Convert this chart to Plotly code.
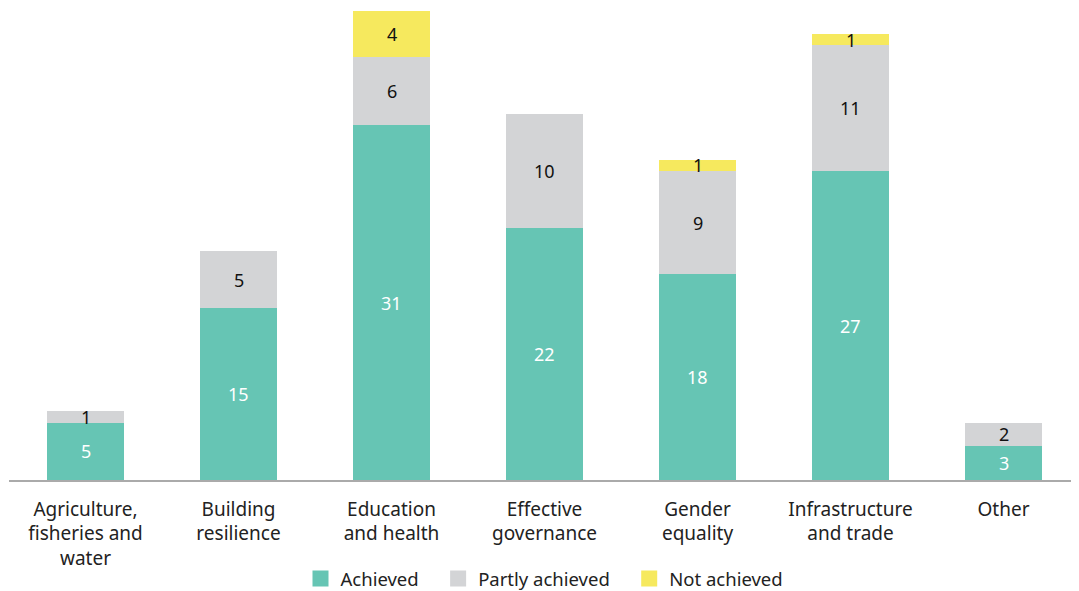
import plotly.graph_objects as go

categories = ["Agriculture,<br>fisheries and<br>water", "Building<br>resilience", "Education<br>and health",
              "Effective<br>governance", "Gender<br>equality", "Infrastructure<br>and trade", "Other"]
achieved = [5, 15, 31, 22, 18, 27, 3]
partly = [1, 5, 6, 10, 9, 11, 2]
not_achieved = [0, 0, 4, 0, 1, 1, 0]

series = [
    ("Achieved", achieved, "#66C5B4", "white"),
    ("Partly achieved", partly, "#D3D4D6", "#111111"),
    ("Not achieved", not_achieved, "#F6E95E", "#111111"),
]

FONT = "Noto Sans"
PAD = "\u00a0" * 3
fig = go.Figure()
annotations = []
base = [0] * len(categories)
for name, vals, color, tcolor in series:
    fig.add_trace(go.Bar(x=categories, y=vals, name=name, marker=dict(color=color, line=dict(width=0)),
                         hoverinfo="skip", showlegend=False))
    for i, v in enumerate(vals):
        if v > 0:
            annotations.append(dict(x=categories[i], y=base[i] + v / 2, text=str(v), showarrow=False,
                                    font=dict(family=FONT, size=18, color=tcolor), xref="x", yref="y"))
        base[i] += v

# legend entries with larger square swatches
for k, (name, vals, color, tcolor) in enumerate(series):
    label = name + (PAD if k < len(series) - 1 else "")
    fig.add_trace(go.Scatter(x=[None], y=[None], mode="markers", name=label,
                             marker=dict(symbol="square", size=22, color=color), hoverinfo="skip"))

fig.update_layout(
    barmode="stack",
    bargap=0.5,
    width=1079, height=591,
    margin=dict(l=1, r=7, t=3, b=119),
    plot_bgcolor="white", paper_bgcolor="white",
    font=dict(family=FONT, size=18, color="#222222"),
    annotations=annotations,
    showlegend=True,
    legend=dict(orientation="h", x=0.5, xanchor="center", y=-0.211, yanchor="middle",
                font=dict(size=18.5, color="#222222"), itemwidth=30, traceorder="normal",
                itemsizing="trace"),
    xaxis=dict(showline=True, linecolor="#AAAAAA", linewidth=1.5, ticks="", showgrid=False,
               tickfont=dict(size=19, color="#222222"), ticklabelstandoff=11, automargin=False),
    yaxis=dict(range=[0, 41], visible=False, showgrid=False, zeroline=False, automargin=False),
)

fig.write_html("out.html")
